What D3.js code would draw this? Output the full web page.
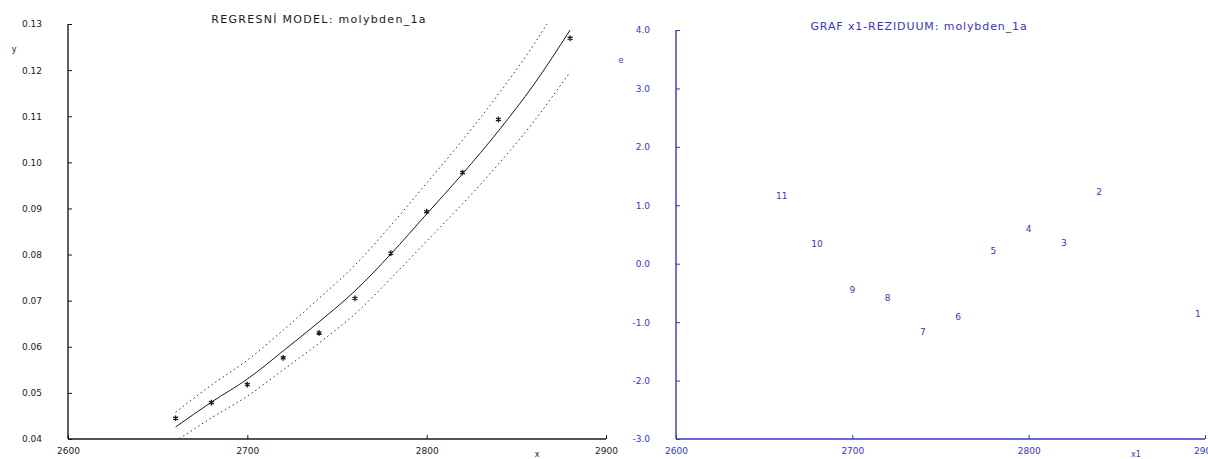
<!DOCTYPE html>
<html>
<head>
<meta charset="utf-8">
<script src="https://cdn.jsdelivr.net/npm/d3@7"></script>
<style>
  html, body { margin: 0; padding: 0; background: #fff; }
  svg { display: block; }
  text { font-family: "DejaVu Sans", sans-serif; }
</style>
</head>
<body>
<svg id="chart" width="1208" height="459"></svg>
<script>
// ---------- data ----------
const xData = [2660, 2680, 2700, 2720, 2740, 2760, 2780, 2800, 2820, 2840, 2880];
const yData = [0.0445, 0.0479, 0.0518, 0.0576, 0.0630, 0.0705, 0.0803, 0.0893, 0.0978, 0.1093, 0.1269];

const xFit = [2660, 2680, 2700, 2720, 2740, 2760, 2780, 2800, 2820, 2840, 2860, 2880];
const yFit = [0.0426, 0.0480, 0.0530, 0.0591, 0.0654, 0.0721, 0.0801, 0.0888, 0.0975, 0.1068, 0.1170, 0.1287];
const yUpper = [0.0458, 0.0517, 0.0571, 0.0636, 0.0705, 0.0777, 0.0863, 0.0955, 0.1048, 0.1148, 0.1257, 0.1382];
const yLower = [0.0395, 0.0446, 0.0493, 0.0550, 0.0608, 0.0671, 0.0748, 0.0829, 0.0910, 0.0996, 0.1090, 0.1196];

const leftXTicks = [2600, 2700, 2800, 2900];
const leftYTicks = [0.04, 0.05, 0.06, 0.07, 0.08, 0.09, 0.10, 0.11, 0.12, 0.13];

const resLabels = ["1", "2", "3", "4", "5", "6", "7", "8", "9", "10", "11"];
const resX = [2896, 2840, 2820, 2800, 2780, 2760, 2740, 2720, 2700, 2680, 2660];
const resY = [-0.86, 1.23, 0.35, 0.59, 0.22, -0.91, -1.16, -0.59, -0.45, 0.34, 1.16];

const rightXTicks = [2600, 2700, 2800, 2900];
const rightYTicks = [-3, -2, -1, 0, 1, 2, 3, 4];

const leftTitle = "REGRESNÍ MODEL: molybden_1a";
const rightTitle = "GRAF x1-REZIDUUM: molybden_1a";

// ---------- drawing ----------
const svg = d3.select("#chart");
const BLACK = "#1a1a1a";
const BLUE = "#3535c8";
const hyphenFmt = (f) => (d) => d3.format(f)(d).replace("\u2212", "-");

// ===== Left panel =====
const xL = d3.scaleLinear().domain([2600, 2900]).range([68, 606]);
const yL = d3.scaleLinear().domain([0.04, 0.13]).range([439, 24]);

svg.append("defs").append("clipPath").attr("id", "clipL")
  .append("rect").attr("x", 68).attr("y", 24).attr("width", 538).attr("height", 415);

const gL = svg.append("g");

const lineL = (ys) => d3.line().curve(d3.curveMonotoneX)
  .x((d, i) => xL(xFit[i])).y(d => yL(d))(ys);

const plotL = gL.append("g").attr("clip-path", "url(#clipL)");
plotL.append("path").attr("d", lineL(yUpper))
  .attr("fill", "none").attr("stroke", "#333").attr("stroke-width", 1)
  .attr("stroke-dasharray", "1.5,3");
plotL.append("path").attr("d", lineL(yLower))
  .attr("fill", "none").attr("stroke", "#333").attr("stroke-width", 1)
  .attr("stroke-dasharray", "1.5,3");
plotL.append("path").attr("d", lineL(yFit))
  .attr("fill", "none").attr("stroke", BLACK).attr("stroke-width", 1);

const star = d3.symbol().type(d3.symbolAsterisk).size(22);
gL.append("g").selectAll("path").data(xData).join("path")
  .attr("d", star)
  .attr("transform", (d, i) => `translate(${xL(d)},${yL(yData[i])})`)
  .attr("fill", "none").attr("stroke", BLACK).attr("stroke-width", 1.3);

// axes
const axLx = d3.axisBottom(xL).tickValues(leftXTicks).tickSize(-4).tickPadding(9).tickFormat(d3.format("d"));
const gAxLx = gL.append("g").attr("transform", "translate(0,439)").call(axLx);
gAxLx.select(".domain").attr("d", "M68,0H606").attr("stroke", BLACK).attr("stroke-width", 1.4);
gAxLx.selectAll(".tick line").attr("stroke", BLACK);
gAxLx.selectAll("text").attr("font-size", 9).attr("fill", BLACK).attr("font-family", "DejaVu Sans");

const axLy = d3.axisLeft(yL).tickValues(leftYTicks).tickSize(-4).tickPadding(26).tickFormat(d3.format(".2f"));
const gAxLy = gL.append("g").attr("transform", "translate(68,0)").call(axLy);
gAxLy.select(".domain").attr("d", "M0,24V439").attr("stroke", BLACK).attr("stroke-width", 1.4);
gAxLy.selectAll(".tick line").attr("stroke", BLACK);
gAxLy.selectAll("text").attr("font-size", 9).attr("fill", BLACK).attr("font-family", "DejaVu Sans");

gL.append("text").attr("x", 319).attr("y", 23).attr("text-anchor", "middle")
  .attr("font-family", "DejaVu Sans Mono").attr("font-size", 11).attr("letter-spacing", 1.3)
  .attr("fill", BLACK).text(leftTitle);
gL.append("text").attr("x", 14).attr("y", 52).attr("text-anchor", "middle")
  .attr("font-size", 8).attr("fill", BLACK).text("y");
gL.append("text").attr("x", 537).attr("y", 457).attr("text-anchor", "middle")
  .attr("font-size", 8).attr("fill", BLACK).text("x");

// ===== Right panel =====
const xR = d3.scaleLinear().domain([2600, 2900]).range([676, 1205]);
const yR = d3.scaleLinear().domain([-3, 4]).range([439, 30]);
const gR = svg.append("g");

gR.append("g").selectAll("text").data(resLabels).join("text")
  .attr("x", (d, i) => xR(resX[i]))
  .attr("y", (d, i) => yR(resY[i]))
  .attr("dy", "0.35em")
  .attr("text-anchor", "middle")
  .attr("font-size", 9).attr("fill", BLUE)
  .text(d => d);

const axRx = d3.axisBottom(xR).tickValues(rightXTicks).tickSize(-4).tickPadding(9).tickFormat(d3.format("d"));
const gAxRx = gR.append("g").attr("transform", "translate(0,439)").call(axRx);
gAxRx.select(".domain").attr("d", "M676,0H1205").attr("stroke", BLUE).attr("stroke-width", 1.4);
gAxRx.selectAll(".tick line").attr("stroke", BLUE);
gAxRx.selectAll("text").attr("font-size", 9).attr("fill", BLUE).attr("font-family", "DejaVu Sans");

const axRy = d3.axisLeft(yR).tickValues(rightYTicks).tickSize(-4).tickPadding(26).tickFormat(hyphenFmt(".1f"));
const gAxRy = gR.append("g").attr("transform", "translate(676,0)").call(axRy);
gAxRy.select(".domain").attr("d", "M0,30V439").attr("stroke", BLUE).attr("stroke-width", 1.4);
gAxRy.selectAll(".tick line").attr("stroke", BLUE);
gAxRy.selectAll("text").attr("font-size", 9).attr("fill", BLUE).attr("font-family", "DejaVu Sans");

gR.append("text").attr("x", 919).attr("y", 30).attr("text-anchor", "middle")
  .attr("font-family", "DejaVu Sans Mono").attr("font-size", 11).attr("letter-spacing", 0.9)
  .attr("fill", BLUE).text(rightTitle);
gR.append("text").attr("x", 621).attr("y", 63).attr("text-anchor", "middle")
  .attr("font-size", 8).attr("fill", BLUE).text("e");
gR.append("text").attr("x", 1136).attr("y", 457).attr("text-anchor", "middle")
  .attr("font-size", 8).attr("fill", BLUE).text("x1");
</script>
</body>
</html>
